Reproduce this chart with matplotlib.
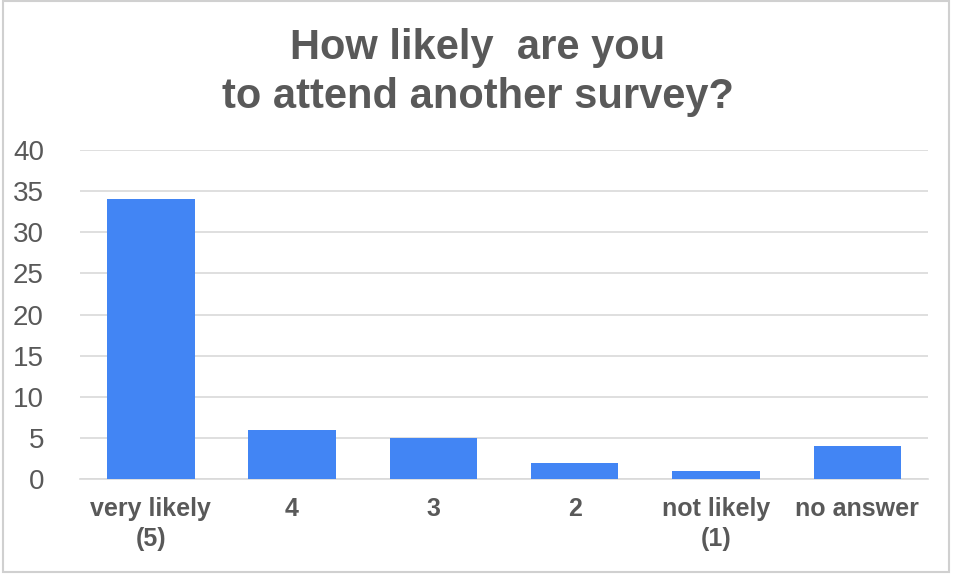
import matplotlib.pyplot as plt
from matplotlib.patches import Rectangle

# survey answers
categories = ['very likely\n(5)', '4', '3', '2', 'not likely\n(1)', 'no answer']
counts = [34, 6, 5, 2, 1, 4]
y_ticks = [0, 5, 10, 15, 20, 25, 30, 35, 40]

plt.rcParams['font.family'] = ['Liberation Sans', 'DejaVu Sans']

fig = plt.figure(figsize=(9.55, 5.82), dpi=100)
ax = fig.add_axes([0.0838, 0.177, 0.8879, 0.565])

x = range(len(categories))
ax.bar(x, counts, width=0.62, color='#4285f4', zorder=3)

ax.set_xlim(-0.5, len(categories) - 0.5)
ax.set_ylim(0, 40)
ax.set_yticks(y_ticks)
ax.set_yticklabels([str(t) for t in y_ticks], fontsize=20, color='#595959')
ax.set_xticks(list(x))
ax.set_xticklabels(categories, fontsize=18, fontweight='bold', color='#595959',
                   linespacing=1.3)
ax.tick_params(axis='y', length=0, pad=26)
ax.tick_params(axis='x', length=0, pad=13)

ax.grid(axis='y', color='#d9d9d9', linewidth=1.2, zorder=0)
for side in ['top', 'right', 'left']:
    ax.spines[side].set_visible(False)
ax.spines['bottom'].set_color('#d9d9d9')
ax.spines['bottom'].set_linewidth(1.2)

fig.text(0.5, 0.875, 'How likely  are you\nto attend another survey?', ha='center', va='center',
         fontsize=30, fontweight='bold', color='#595959', linespacing=1.3)

# light frame around the chart
fig.patches.append(Rectangle((0.003, 0.017), 0.991, 0.981, transform=fig.transFigure,
                             fill=False, edgecolor='#d0d0d0', linewidth=1.5))

fig.savefig('out.png', dpi=100)
